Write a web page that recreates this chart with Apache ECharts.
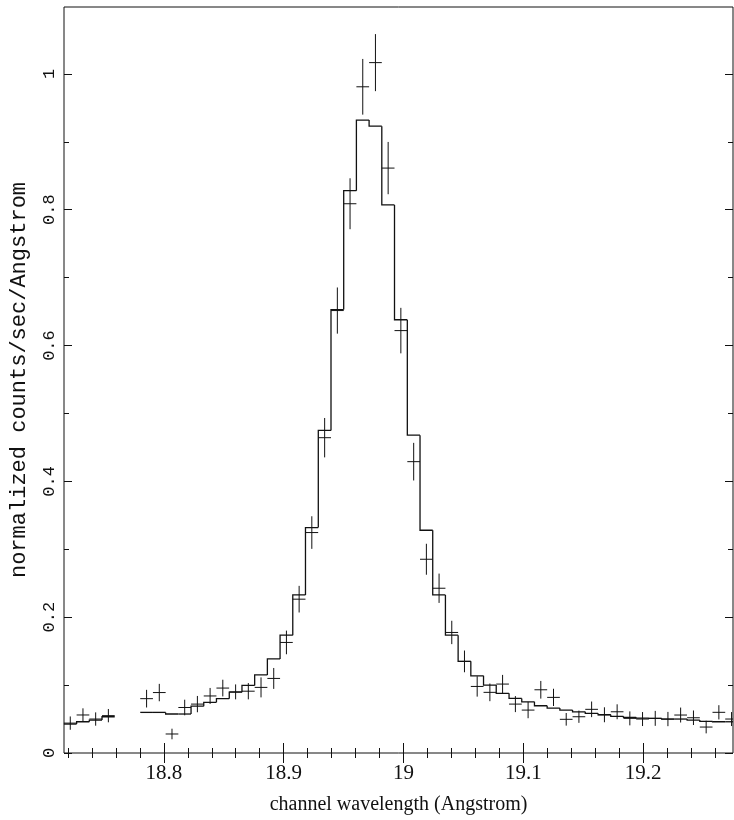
<!DOCTYPE html>
<html>
<head>
<meta charset="utf-8">
<script src="https://cdn.jsdelivr.net/npm/echarts@6/dist/echarts.min.js"></script>
<style>html,body{margin:0;padding:0;background:#fff}#c{width:734px;height:820px}</style>
</head>
<body>
<div id="c"></div>
<script>
// Channel centres (Angstrom)
const wavelength = [18.7219,18.7325,18.7431,18.7537,18.7644,18.7750,18.7856,18.7962,18.8068,18.8174,
  18.8280,18.8386,18.8492,18.8599,18.8705,18.8811,18.8917,18.9023,18.9129,18.9235,
  18.9342,18.9448,18.9554,18.9660,18.9766,18.9872,18.9978,19.0085,19.0191,19.0297,
  19.0403,19.0509,19.0615,19.0721,19.0827,19.0934,19.1040,19.1146,19.1252,19.1358,
  19.1464,19.1570,19.1677,19.1783,19.1889,19.1995,19.2101,19.2207,19.2313,19.2420,
  19.2526,19.2632,19.2738];
// Observed normalized counts/sec/Angstrom
const observed = [0.044,0.056,0.050,0.055,null,null,0.080,0.089,0.028,0.067,
  0.072,0.084,0.0956,0.090,0.091,0.0966,0.1098,0.1628,0.2265,0.3246,
  0.4643,0.6515,0.8088,0.981,1.0166,0.8613,0.622,0.429,0.2853,0.2426,
  0.1775,0.1349,0.098,0.0893,0.1015,0.072,0.0632,0.0931,0.0819,0.0496,
  0.0534,0.0643,0.0563,0.0607,0.051,0.050,0.051,0.050,0.0559,0.0519,
  0.0382,0.0599,0.050];
// 1-sigma errors
const errors = [0.0098,0.0098,0.0098,0.0098,null,null,0.013,0.0128,0.0078,0.0115,
  0.012,0.0118,0.0123,0.011,0.012,0.0147,0.0154,0.0174,0.0196,0.024,
  0.029,0.034,0.0375,0.041,0.042,0.0385,0.0335,0.0277,0.0228,0.0216,
  0.0172,0.016,0.015,0.013,0.0135,0.0118,0.012,0.013,0.0127,0.0093,
  0.009,0.0115,0.011,0.011,0.0103,0.0103,0.011,0.0105,0.011,0.0107,
  0.0093,0.0105,0.0103];
// Folded model
const model = [0.0426,0.046,0.0485,0.0534,null,null,0.0598,0.0598,0.0574,0.0574,
  0.069,0.0746,0.080,0.0895,0.0995,0.115,0.1385,0.1735,0.2328,0.332,
  0.475,0.653,0.828,0.932,0.923,0.807,0.638,0.468,0.328,0.2328,
  0.1735,0.135,0.1137,0.100,0.0878,0.0804,0.0754,0.0696,0.0662,0.0632,
  0.0607,0.0584,0.0563,0.054,0.0525,0.0515,0.051,0.050,0.050,0.0485,
  0.0466,0.046,0.046];
// Tick positions
const xMajorTicks = [18.8,18.9,19.0,19.1,19.2];
const xMinorTicks = [18.72,18.74,18.76,18.78,18.82,18.84,18.86,18.88,18.92,18.94,18.96,18.98,
  19.02,19.04,19.06,19.08,19.12,19.14,19.16,19.18,19.22,19.24,19.26];
const yMajorTicks = [0,0.2,0.4,0.6,0.8,1];
const yMinorTicks = [0.1,0.3,0.5,0.7,0.9];

const HW = 0.0053; // half channel width
const X_MIN = 18.71667, X_MAX = 19.275, Y_MIN = 0, Y_MAX = 1.0985;
const INK = '#111';

const crossData = [];
wavelength.forEach((w, i) => { if (observed[i] != null) crossData.push([w, observed[i], errors[i]]); });
const modelData = [];
wavelength.forEach((w, i) => { if (model[i] != null) modelData.push([w, model[i], i]); });

function xAx(pos, ticks, len, labels) {
  return {
    type: 'value', position: pos, min: X_MIN, max: X_MAX,
    axisLine: { show: false },
    splitLine: { show: false },
    axisTick: { show: true, inside: true, length: len, customValues: ticks, lineStyle: { color: INK, width: 1 } },
    axisLabel: labels ? { show: true, customValues: ticks, margin: 10, color: INK, fontFamily: 'Liberation Serif', fontSize: 21 } : { show: false }
  };
}
function yAx(pos, ticks, len, labels) {
  return {
    type: 'value', position: pos, min: Y_MIN, max: Y_MAX,
    axisLine: { show: false },
    splitLine: { show: false },
    axisTick: { show: true, inside: true, length: len, customValues: ticks, lineStyle: { color: INK, width: 1 } },
    axisLabel: labels ? { show: true, customValues: ticks, rotate: 90, margin: 6, color: INK, fontFamily: 'Liberation Mono', fontSize: 17 } : { show: false }
  };
}

const xAxes = [xAx('bottom', xMajorTicks, 10, true), xAx('bottom', xMinorTicks, 5, false),
               xAx('top', xMajorTicks, 10, false), xAx('top', xMinorTicks, 5, false)];
Object.assign(xAxes[0], { name: 'channel wavelength (Angstrom)', nameLocation: 'middle', nameGap: 42,
  nameTextStyle: { color: INK, fontFamily: 'Liberation Serif', fontSize: 20 } });
const yAxes = [yAx('left', yMajorTicks, 8, true), yAx('left', yMinorTicks, 5, false),
               yAx('right', yMajorTicks, 8, false), yAx('right', yMinorTicks, 5, false)];
Object.assign(yAxes[0], { name: 'normalized counts/sec/Angstrom', nameLocation: 'middle', nameGap: 34, nameRotate: 90,
  nameTextStyle: { color: INK, fontFamily: 'Liberation Mono', fontSize: 22 } });

const chart = echarts.init(document.getElementById('c'), null, { renderer: 'canvas' });
chart.setOption({
  animation: false,
  backgroundColor: '#fff',
  grid: { left: 63, right: 1, top: 7, bottom: 66, show: true, borderColor: INK, borderWidth: 1, backgroundColor: 'transparent' },
  xAxis: xAxes,
  yAxis: yAxes,
  series: [
    {
      type: 'custom', xAxisIndex: 0, yAxisIndex: 0, clip: true, data: modelData,
      renderItem: function (params, api) {
        const i = api.value(2);
        const w = wavelength[i], m = model[i];
        const pts = [];
        if (i > 0 && model[i - 1] != null) pts.push(api.coord([w - HW, model[i - 1]]));
        pts.push(api.coord([w - HW, m]));
        pts.push(api.coord([w + HW, m]));
        return { type: 'polyline', shape: { points: pts }, style: { stroke: INK, lineWidth: 1.3, fill: null } };
      }
    },
    {
      type: 'custom', xAxisIndex: 0, yAxisIndex: 0, clip: true, data: crossData,
      renderItem: function (params, api) {
        const x = api.value(0), y = api.value(1), e = api.value(2);
        const l = api.coord([x - HW, y]), r = api.coord([x + HW, y]);
        const t = api.coord([x, y + e]), b = api.coord([x, y - e]);
        return { type: 'group', children: [
          { type: 'line', shape: { x1: l[0], y1: l[1], x2: r[0], y2: r[1] }, style: { stroke: INK, lineWidth: 1 } },
          { type: 'line', shape: { x1: t[0], y1: t[1], x2: b[0], y2: b[1] }, style: { stroke: INK, lineWidth: 1 } }
        ] };
      }
    }
  ]
});
</script>
</body>
</html>
